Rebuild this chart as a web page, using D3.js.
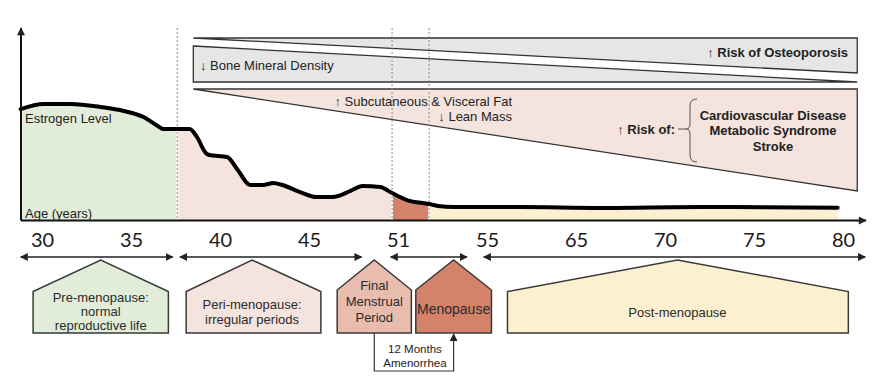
<!DOCTYPE html>
<html><head><meta charset="utf-8">
<script src="https://cdn.jsdelivr.net/npm/d3@7"></script>
<style>body{margin:0;background:#fff}</style>
</head><body>
<svg id="c" width="883" height="378" xmlns="http://www.w3.org/2000/svg"></svg>
<script>
// ---------- DATA ----------
const tickAges = [30, 35, 40, 45, 51, 55, 65, 70, 75, 80];
const curveAges = [28.8,30.1,31.6,33.3,34.6,35.7,36.5,36.8,38.3,38.7,39.2,39.4,40.4,41.0,41.7,42.4,43.0,43.5,44.5,45.5,46.6,47.8,48.6,49.8,50.6,51.4,52.4,52.8,53.5,58.7,66.4,72.0,79.7];
const curveLevels = [58.4,61.1,61.1,59.5,57.4,54.2,49.5,47.9,47.9,43.7,35.3,34.2,33.2,26.3,18.4,18.4,19.5,18.4,14.7,12.1,12.1,15.3,17.9,17.4,14.2,10.5,8.4,7.4,6.8,6.8,6.3,6.8,6.5];
const phaseNames = ["Pre-menopause","Peri-menopause","Final Menstrual Period","Menopause","Post-menopause"];
const phaseStart = [28.8, 37.6, 50.6, 52.4];
const phaseEnd   = [37.6, 50.6, 52.4, 79.7];
const arrowStart = [28.8, 37.75, 50.5, 54.85];
const arrowEnd   = [37.35, 48.55, 54.1, 81.25];
const boxLabels = [["Pre-menopause:","normal","reproductive life"],["Peri-menopause:","irregular periods"],["Final","Menstrual","Period"],["Menopause"],["Post-menopause"]];
const boxStart = [29.5, 38.1, 46.9, 51.8, 57.3];
const boxPeak  = [33.3, 41.8, 49.4, 53.5, 70.7];
const boxEnd   = [37.1, 45.8, 51.6, 55.5, 80.3];
const effectStart = 38.5, effectEnd = 80.8;
const amenorrheaLabel = ["12 Months","Amenorrhea"];
const riskList = ["Cardiovascular Disease","Metabolic Syndrome","Stroke"];

// ---------- STYLE / LAYOUT ----------
const phaseFill = ["#e2edd9","#f5e3dd","#d5826a","#fdf0d2"];
const boxFill = ["#e2edd9","#f5e3dd","#e9bdae","#d5826a","#fdf0d0"];
const boxLayout = [{cy:311,sp:14,fs:13},{cy:311.5,sp:15,fs:13},{cy:301,sp:16,fs:13},{cy:309,sp:0,fs:14},{cy:312,sp:0,fs:13}];
const FONT = "'Liberation Sans', Arial, sans-serif";

const svg = d3.select("#c");
const x0 = 21, yBase = 220.5;

const pt = d3.scalePoint().domain(tickAges.map(String)).range([42, 843]);
const x = d3.scaleLinear().domain(tickAges).range(tickAges.map(a => pt(String(a))));
const y = d3.scaleLinear().domain([0, 100]).range([220, 30]);

const defs = svg.append("defs");
defs.append("marker").attr("id","ah").attr("viewBox","0 0 10 10").attr("refX",9).attr("refY",5)
  .attr("markerWidth",9).attr("markerHeight",8).attr("markerUnits","userSpaceOnUse")
  .attr("orient","auto-start-reverse")
  .append("path").attr("d","M0,0L10,5L0,10Z").attr("fill","#222");
defs.append("marker").attr("id","ah2").attr("viewBox","0 0 10 10").attr("refX",9).attr("refY",5)
  .attr("markerWidth",8).attr("markerHeight",8).attr("markerUnits","userSpaceOnUse")
  .attr("orient","auto-start-reverse")
  .append("path").attr("d","M0,0L10,5L0,10Z").attr("fill","#222");

const pts = curveAges.map((a,i)=>[a, curveLevels[i]]);
const area = d3.area().x(d=>x(d[0])).y0(220).y1(d=>y(d[1])).curve(d3.curveMonotoneX);
const line = d3.line().x(d=>x(d[0])).y(d=>y(d[1])).curve(d3.curveMonotoneX);

// phase fills
phaseStart.forEach((s,i)=>{
  const cid = "clip"+i;
  defs.append("clipPath").attr("id",cid).append("rect")
    .attr("x", x(s)+ (i>0?1:0)).attr("y",0)
    .attr("width", x(phaseEnd[i]) - x(s) - (i>0?1:0) - (i<phaseStart.length-1?1:0)).attr("height",221);
  svg.append("path").attr("d", area(pts)).attr("fill", phaseFill[i]).attr("clip-path",`url(#${cid})`);
});

// top effect shapes
const xs = x(effectStart), xe = x(effectEnd);
svg.append("path").attr("d",`M${xs},38L${xe},38L${xe},73Z`).attr("fill","#e6e6e6").attr("stroke","#333").attr("stroke-width",1.3);
svg.append("path").attr("d",`M${xs},46L${xe},82L${xs},82Z`).attr("fill","#e6e6e6").attr("stroke","#333").attr("stroke-width",1.3);
svg.append("path").attr("d",`M${xs},89L${xe},89L${xe},191Z`).attr("fill","#f5e3dd").attr("stroke","#333").attr("stroke-width",1.3);

// dotted verticals
[phaseStart[1], phaseStart[2], phaseStart[3]].forEach(a=>{
  svg.append("line").attr("x1",x(a)).attr("x2",x(a)).attr("y1",28).attr("y2",220)
    .attr("stroke","#8a8a8a").attr("stroke-width",1).attr("stroke-dasharray","2,2");
});

// estrogen curve
svg.append("path").attr("d", line(pts)).attr("fill","none").attr("stroke","#000")
  .attr("stroke-width",4).attr("stroke-linejoin","round").attr("stroke-linecap","round");

// axes
svg.append("line").attr("x1",x0).attr("x2",x0).attr("y1",yBase).attr("y2",28)
  .attr("stroke","#111").attr("stroke-width",2).attr("marker-end","url(#ah)");
svg.append("line").attr("x1",x0).attr("x2",866).attr("y1",yBase).attr("y2",yBase)
  .attr("stroke","#111").attr("stroke-width",2).attr("marker-end","url(#ah)");

const ax = svg.append("g").attr("transform","translate(0,0)")
  .call(d3.axisBottom(x).tickValues(tickAges).tickSize(0).tickFormat(d3.format("d")));
ax.select(".domain").remove();
ax.selectAll("text").attr("y",247).attr("dy",null)
  .attr("font-family","Lato, 'Open Sans', sans-serif").attr("font-size",20).attr("fill","#1a1a1a");

// labels on chart
svg.append("text").attr("x",25).attr("y",118).attr("dominant-baseline","central")
  .attr("font-family",FONT).attr("font-size",13).attr("fill","#222").text("Estrogen Level");
svg.append("text").attr("x",25).attr("y",213).attr("dominant-baseline","central")
  .attr("font-family",FONT).attr("font-size",13).attr("fill","#222").text("Age (years)");

// effect texts
const T = (tx,ty,txt,anchor,bold)=>svg.append("text").attr("x",tx).attr("y",ty)
  .attr("dominant-baseline","central").attr("text-anchor",anchor||"start")
  .attr("font-family",FONT).attr("font-size",13).attr("font-weight",bold?"bold":"normal")
  .attr("fill","#222").text(txt);
T(200,65,"\u2193 Bone Mineral Density");
T(848,52,"\u2191 Risk of Osteoporosis","end",true);
T(512,101,"\u2191 Subcutaneous & Visceral Fat","end");
T(512,116,"\u2193 Lean Mass","end");
T(675,129,"\u2191 Risk of:","end",true);
riskList.forEach((r,i)=>T(773,115+i*15.5,r,"middle",true));
svg.append("path").attr("d","M678,129L686,129M697,99Q690,99 690,106L690,124Q690,129 686,129Q690,129 690,134L690,155Q690,162 697,162")
  .attr("fill","none").attr("stroke","#555").attr("stroke-width",1);

// double arrows
arrowStart.forEach((s,i)=>{
  svg.append("line").attr("x1",x(s)).attr("x2",x(arrowEnd[i])).attr("y1",257).attr("y2",257)
    .attr("stroke","#222").attr("stroke-width",1.5)
    .attr("marker-start","url(#ah2)").attr("marker-end","url(#ah2)");
});

// pentagon boxes
boxLabels.forEach((lines,i)=>{
  const a = x(boxStart[i]), b = x(boxEnd[i]), p = x(boxPeak[i]);
  const sh = (i===2||i===3)?290:291.5;
  svg.append("path").attr("d",`M${a},333L${a},${sh}L${p},260L${b},${sh}L${b},333Z`)
    .attr("fill",boxFill[i]).attr("stroke","#3a3a3a").attr("stroke-width",1.5).attr("stroke-linejoin","miter");
  const L = boxLayout[i];
  lines.forEach((t,j)=>{
    svg.append("text").attr("x",p).attr("y",L.cy + (j-(lines.length-1)/2)*L.sp)
      .attr("dominant-baseline","central").attr("text-anchor","middle")
      .attr("font-family",FONT).attr("font-size",L.fs).attr("fill","#2a2a2a").text(t);
  });
});

// amenorrhea connector
const xa = x(boxPeak[2]), xb = x(boxPeak[3]);
svg.append("path").attr("d",`M${xa},333L${xa},371L${xb},371L${xb},334`)
  .attr("fill","none").attr("stroke","#333").attr("stroke-width",1.2).attr("marker-end","url(#ah2)");
amenorrheaLabel.forEach((t,j)=>{
  svg.append("text").attr("x",(xa+xb)/2+1).attr("y",349+j*14).attr("dominant-baseline","central")
    .attr("text-anchor","middle").attr("font-family",FONT).attr("font-size",11.5).attr("fill","#222").text(t);
});
</script>
</body></html>
